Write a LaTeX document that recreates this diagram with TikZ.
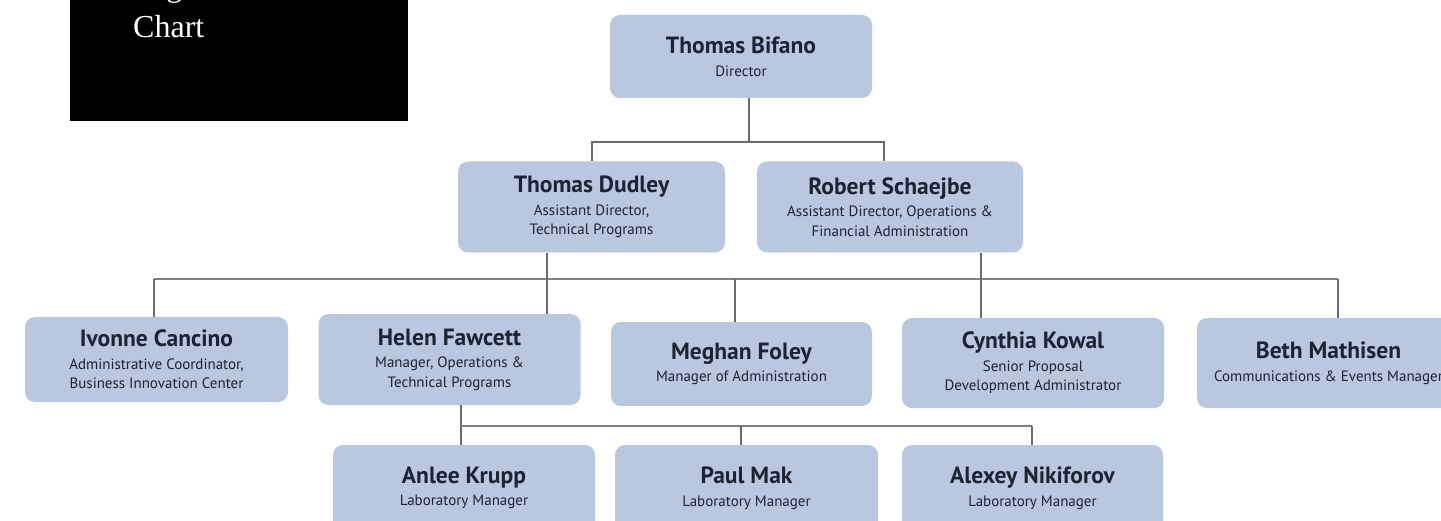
\documentclass[tikz,border=0pt]{standalone}
\usepackage{fontspec}
\newfontfamily\orgsans{PT Sans}
\newfontfamily\titleserif{Liberation Serif}
\definecolor{boxfill}{HTML}{B9C8DF}
\definecolor{inktext}{HTML}{1C2333}
\definecolor{linegray}{HTML}{6A6A6A}
\newcommand{\nm}[1]{{\fontsize{23.5}{26}\selectfont\bfseries #1}}
\tikzset{
  person/.style={rectangle, rounded corners=10pt, fill=boxfill, inner sep=0pt,
    align=center, text=inktext, font=\orgsans\fontsize{15}{19.5}\selectfont},
  conn/.style={draw=linegray, line width=2pt},
  hconn/.style={draw=linegray!85, line width=2.6pt},
  ttl/.style={anchor=base west, text=white, font=\titleserif\fontsize{32}{41}\selectfont, inner sep=0pt}
}
\begin{document}
\begin{tikzpicture}[x=1pt,y=-1pt]
\fill[white] (0,0) rectangle (1441,521);
\useasboundingbox (0,0) rectangle (1441,521);
% title block
\fill[black] (70,0) rectangle (408,121);
\node[ttl] (ttl1) at (133,-3.5) {Organizational};
\node[ttl] (ttl2) at (133,38) {Chart};
% boxes
\node[person, minimum width=262pt, minimum height=83pt] (bifano) at (741,56.5)
  {\nm{Thomas Bifano}\\[3pt]Director};
\node[person, minimum width=267pt, minimum height=91pt] (dudley) at (591.5,207)
  {\nm{Thomas Dudley}\\[3pt]Assistant Director,\\Technical Programs};
\node[person, minimum width=266pt, minimum height=91pt] (robert) at (890,207)
  {\nm{Robert Schaejbe}\\[3pt]Assistant Director, Operations \&\\Financial Administration};
\node[person, minimum width=263pt, minimum height=85pt] (ivonne) at (156.5,359.5)
  {\nm{Ivonne Cancino}\\[3pt]Administrative Coordinator,\\Business Innovation Center};
\node[person, minimum width=262pt, minimum height=91pt] (helen) at (449.5,359.5)
  {\nm{Helen Fawcett}\\[3pt]Manager, Operations \&\\Technical Programs};
\node[person, minimum width=261pt, minimum height=84pt] (meghan) at (741.5,364)
  {\nm{Meghan Foley}\\[3pt]Manager of Administration};
\node[person, minimum width=262pt, minimum height=90pt] (cynthia) at (1033,363)
  {\nm{Cynthia Kowal}\\[3pt]Senior Proposal\\Development Administrator};
\node[person, minimum width=263pt, minimum height=90pt] (beth) at (1328.5,363)
  {\nm{Beth Mathisen}\\[3pt]Communications \& Events Manager};
\node[person, minimum width=262pt, minimum height=86pt] (anlee) at (464,488)
  {\nm{Anlee Krupp}\\[3pt]Laboratory Manager};
\node[person, minimum width=263pt, minimum height=86pt] (paul) at (746.5,488)
  {\nm{Paul Mak}\\[3pt]Laboratory Manager};
\node[person, minimum width=261pt, minimum height=86pt] (alexey) at (1032.5,488)
  {\nm{Alexey Nikiforov}\\[3pt]Laboratory Manager};
% junctions
\coordinate (j1) at (749,142);
\coordinate (j2) at (154,279);
\coordinate (j3) at (1338,279);
\coordinate (j4) at (461,426);
\coordinate (j5) at (1032,426);
% connectors level 1
\draw[conn] (bifano.south -| j1) -- (j1);
\draw[conn] (j1) -| (dudley.north);
\draw[conn] (j1) -| ([xshift=-6pt]robert.north);
% level 2
\draw[hconn] (j2) -- (j3);
\draw[conn] (j2) -- (ivonne.north -| j2);
\draw[conn] (j3) -- (beth.north -| j3);
\draw[conn] ([xshift=-44.5pt]dudley.south) -- ([xshift=97.5pt]helen.north);
\draw[conn] ([xshift=-6.5pt]meghan.north) -- ([xshift=-6.5pt]meghan.north |- j2);
\draw[conn] ([xshift=91pt]robert.south) -- ([xshift=-52pt]cynthia.north);
% level 3
\draw[conn] (helen.south -| j4) -- (anlee.north -| j4);
\draw[hconn] (j4) -- (j5);
\draw[conn] ([xshift=-5.5pt]paul.north) -- ([xshift=-5.5pt]paul.north |- j4);
\draw[conn] (j5) -- (alexey.north -| j5);
\end{tikzpicture}
\end{document}
